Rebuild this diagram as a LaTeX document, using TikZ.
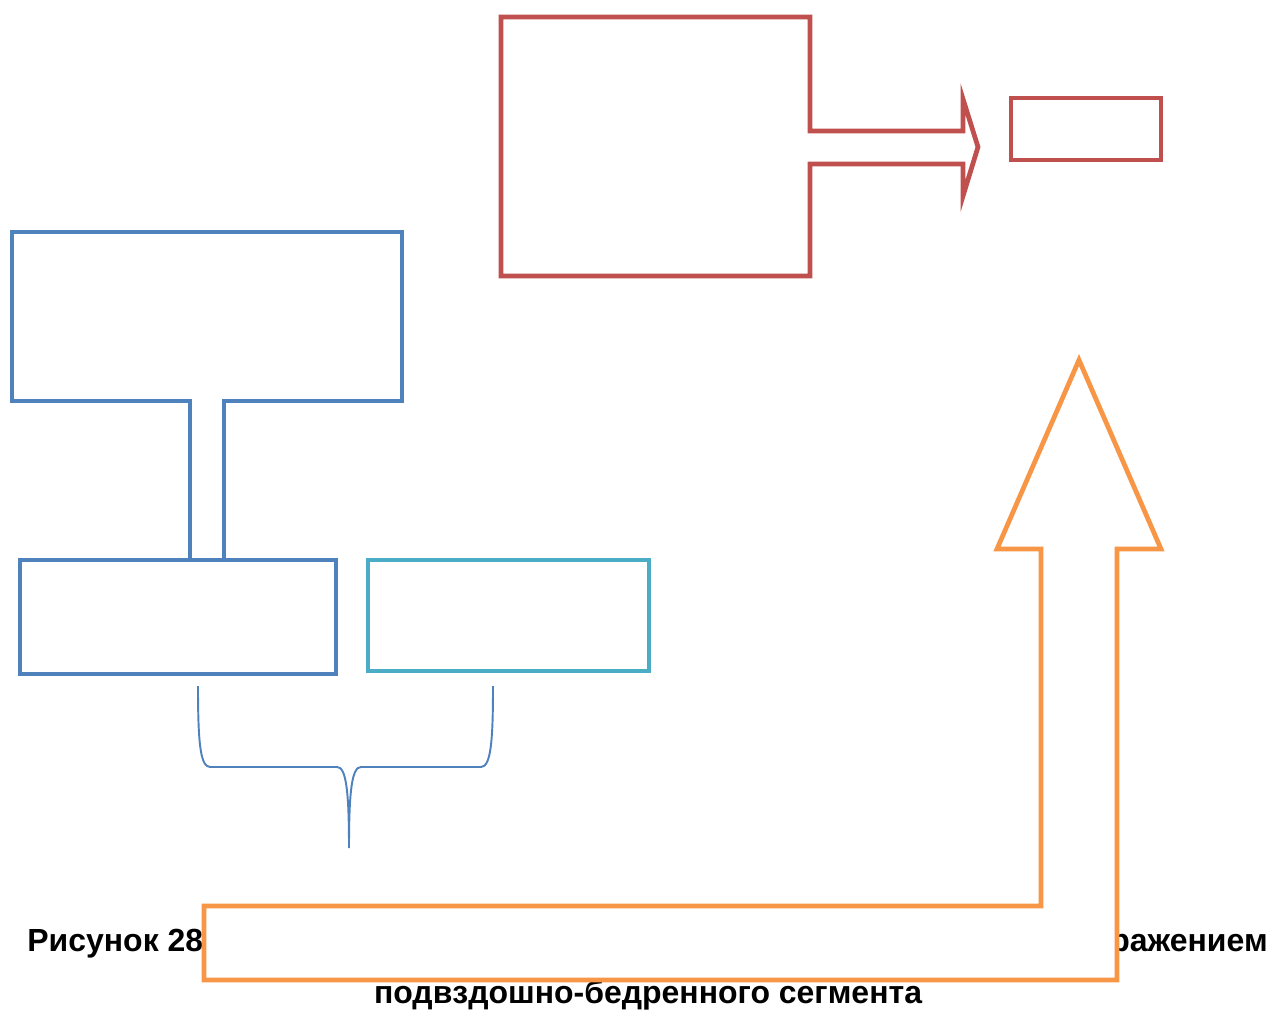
\documentclass[tikz,border=0pt]{standalone}
\usepackage{fontspec}
\setmainfont{Liberation Sans}
\usepackage{tikz}
\definecolor{blueline}{HTML}{4F81BD}
\definecolor{redline}{HTML}{C0504D}
\definecolor{tealline}{HTML}{4BACC6}
\definecolor{orangeline}{HTML}{F79646}
\tikzstyle{frame} = [line width=2.7pt,fill=white,inner sep=0pt]
\tikzstyle{box} = [frame,draw,rectangle]
\tikzstyle{caption} = [inner sep=0pt,font=\fontsize{18.2}{22}\selectfont\bfseries]

\begin{document}
\begin{tikzpicture}[x=0.02cm,y=-0.02cm]
      \useasboundingbox (0,0) rectangle (1272,1010);

      % caption under the shapes
      \node[caption] [anchor=base west] (capa) at (27,951) {Рисунок 28 –};
      \node[caption] [anchor=base east] (capb) at (1268,951) {поражением};
      \node[caption] [anchor=base] (capc) at (648,1003) {подвздошно-бедренного сегмента};

      % callouts
      \draw[frame,draw=blueline] (12,232) -- (402,232) -- (402,401) -- (224,401) -- (224,560)
            -- (190,560) -- (190,401) -- (12,401) -- cycle;
      \draw[frame,draw=redline] (501,17) -- (810,17) -- (810,131) -- (963,131) -- (963,99)
            -- (978,147) -- (963,196) -- (963,164) -- (810,164) -- (810,276) -- (501,276) -- cycle;

      \node[box,draw=blueline,minimum width=6.32cm,minimum height=2.28cm] (left) at (178,617) {};
      \node[box,draw=tealline,minimum width=5.62cm,minimum height=2.22cm] (right) at (508.5,615.5) {};
      \node[box,draw=redline,minimum width=3.0cm,minimum height=1.24cm] (result) at (1086,129) {};

      % brace
      \coordinate (bl) at (198,686);
      \coordinate (br) at (493,686);
      \coordinate (bm) at (349,848);
      \draw[blueline,line width=1.1pt] (bl) .. controls (198,740) and (200,767) .. (210,767) -- (337,767)
            .. controls (346,767) and (349,790) .. (bm) .. controls (349,790) and (352,767) .. (361,767)
            -- (481,767) .. controls (491,767) and (493,740) .. (br);

      % bent arrow
      \draw[frame,draw=orangeline] (1079,360) -- (1161,549) -- (1117,549) -- (1117,980) -- (204,980)
            -- (204,906) -- (1041,906) -- (1041,549) -- (997,549) -- cycle;
\end{tikzpicture}
\end{document}
